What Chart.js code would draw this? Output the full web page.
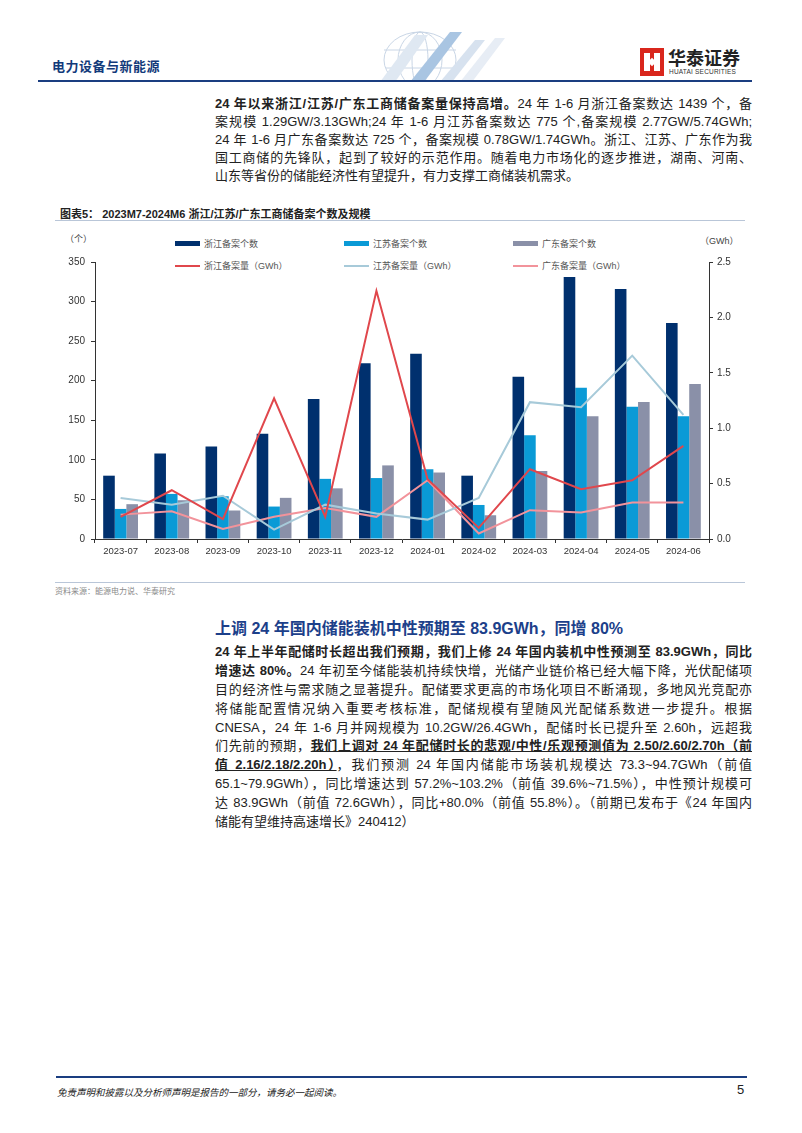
<!DOCTYPE html>
<html>
<head>
<meta charset="utf-8">
<script src="https://cdn.jsdelivr.net/npm/chart.js@4.4.1/dist/chart.umd.min.js"></script>
<style>
  html, body { margin:0; padding:0; background:#fff; }
  body { width:802px; height:1133px; position:relative; overflow:hidden;
         font-family:"Liberation Sans", Arial, "Noto Sans CJK SC", sans-serif; color:#222; }
  .abs { position:absolute; }
  .para { position:absolute; left:215px; width:537px; font-size:13px; }
  .para div { white-space:nowrap; text-align:justify; text-align-last:justify; height:18px; }
  .para div.last { text-align-last:left; }
  .hdr { left:52px; top:56px; font-size:13px; font-weight:bold; color:#123a7a; letter-spacing:0.5px; }
  .legend { position:absolute; font-size:9px; color:#555; display:flex; align-items:center; white-space:nowrap; }
  .sw { display:inline-block; width:25px; margin-right:4px; }
</style>
</head>
<body>
<!-- header -->
<div class="abs hdr">电力设备与新能源</div>
<svg class="abs" style="left:300px;top:30px" width="240" height="52">
  <g fill="none" stroke="#c9d6e6" stroke-width="1">
    <ellipse cx="120" cy="30" rx="36" ry="28"/>
    <ellipse cx="120" cy="30" rx="22" ry="28"/>
    <ellipse cx="120" cy="30" rx="8" ry="28"/>
    <line x1="84" y1="20" x2="156" y2="20"/>
    <line x1="86" y1="38" x2="154" y2="38"/>
  </g>
  <polygon points="80,52 115,5 128,5 95,52" fill="#dfe8f2"/>
  <polygon points="110,52 150,2 162,2 124,52" fill="#a9c5e2"/>
  <polygon points="140,52 175,10 185,10 152,52" fill="#d7e2ef"/>
  <polygon points="160,52 195,8 205,8 172,52" fill="#e7edf5"/>
</svg>
<div class="abs" style="left:640px;top:48px;width:24px;height:28px;background:#d9261c;">
  <div class="abs" style="left:4px;top:5px;width:6px;height:18px;background:#fff;"></div>
  <div class="abs" style="left:14px;top:5px;width:6px;height:18px;background:#fff;"></div>
  <div class="abs" style="left:9px;top:11px;width:6px;height:6px;background:#fff;transform:rotate(45deg);"></div>
</div>
<div class="abs" style="left:668px;top:46px;font-size:18px;font-weight:bold;color:#222;font-family:'Noto Sans CJK SC';line-height:22px;">华泰证券</div>
<div class="abs" style="left:669px;top:68px;font-size:6.5px;color:#333;letter-spacing:0.2px;">HUATAI SECURITIES</div>
<div class="abs" style="left:38px;top:80px;width:714px;height:2px;background:#1a3d80;"></div>

<!-- paragraph 1 -->
<div class="para" style="top:93px;">
  <div><b>24 年以来浙江/江苏/广东工商储备案量保持高增。</b>24 年 1-6 月浙江备案数达 1439 个，备</div>
  <div>案规模 1.29GW/3.13GWh;24 年 1-6 月江苏备案数达 775 个,备案规模 2.77GW/5.74GWh;</div>
  <div>24 年 1-6 月广东备案数达 725 个，备案规模 0.78GW/1.74GWh。浙江、江苏、广东作为我</div>
  <div>国工商储的先锋队，起到了较好的示范作用。随着电力市场化的逐步推进，湖南、河南、</div>
  <div class="last">山东等省份的储能经济性有望提升，有力支撑工商储装机需求。</div>
</div>

<!-- chart title -->
<div class="abs" style="left:60px;top:205px;font-size:11px;font-weight:bold;color:#222;white-space:nowrap;">图表5：&nbsp;2023M7-2024M6 浙江/江苏/广东工商储备案个数及规模</div>
<div class="abs" style="left:55px;top:220px;width:690px;height:1px;background:#b9c6d8;"></div>

<!-- axis titles -->
<div class="abs" style="left:65px;top:232px;font-size:9px;color:#444;">（个）</div>
<div class="abs" style="left:700px;top:234px;font-size:9px;color:#444;">（GWh）</div>

<!-- legend -->
<div class="legend" style="left:175px;top:237px;"><span class="sw" style="height:5px;background:#00306e"></span>浙江备案个数</div>
<div class="legend" style="left:344px;top:237px;"><span class="sw" style="height:5px;background:#0a9ad6"></span>江苏备案个数</div>
<div class="legend" style="left:513px;top:237px;"><span class="sw" style="height:5px;background:#8a90a8"></span>广东备案个数</div>
<div class="legend" style="left:175px;top:259px;"><span class="sw" style="height:2px;background:#e0474c"></span>浙江备案量（GWh）</div>
<div class="legend" style="left:344px;top:259px;"><span class="sw" style="height:2px;background:#a7cad9"></span>江苏备案量（GWh）</div>
<div class="legend" style="left:513px;top:259px;"><span class="sw" style="height:2px;background:#f2939b"></span>广东备案量（GWh）</div>

<div class="abs" style="left:40px;top:225px;width:720px;height:340px;">
  <canvas id="c" width="720" height="340"></canvas>
</div>

<!-- source -->
<div class="abs" style="left:55px;top:582px;width:690px;height:1px;background:#b9c6d8;"></div>
<div class="abs" style="left:55px;top:585px;font-size:8px;color:#8a8a8a;">资料来源：能源电力说、华泰研究</div>

<!-- heading -->
<div class="abs" style="left:215px;top:615px;font-size:16px;font-weight:bold;color:#1c3f8a;white-space:nowrap;">上调 24 年国内储能装机中性预期至 83.9GWh，同增 80%</div>

<!-- paragraph 2 -->
<div class="para" style="top:641px;">
  <div style="height:18.9px"><b>24 年上半年配储时长超出我们预期，我们上修 24 年国内装机中性预测至 83.9GWh，同比</b></div>
  <div style="height:18.9px"><b>增速达 80%。</b>24 年初至今储能装机持续快增，光储产业链价格已经大幅下降，光伏配储项</div>
  <div style="height:18.9px">目的经济性与需求随之显著提升。配储要求更高的市场化项目不断涌现，多地风光竞配亦</div>
  <div style="height:18.9px">将储能配置情况纳入重要考核标准，配储规模有望随风光配储系数进一步提升。根据</div>
  <div style="height:18.9px">CNESA，24 年 1-6 月并网规模为 10.2GW/26.4GWh，配储时长已提升至 2.60h，远超我</div>
  <div style="height:18.9px">们先前的预期，<u><b>我们上调对 24 年配储时长的悲观/中性/乐观预测值为 2.50/2.60/2.70h（前</b></u></div>
  <div style="height:18.9px"><u><b>值 2.16/2.18/2.20h）</b></u>，我们预测 24 年国内储能市场装机规模达 73.3~94.7GWh（前值</div>
  <div style="height:18.9px">65.1~79.9GWh），同比增速达到 57.2%~103.2%（前值 39.6%~71.5%），中性预计规模可</div>
  <div style="height:18.9px">达 83.9GWh（前值 72.6GWh），同比+80.0%（前值 55.8%）。（前期已发布于《24 年国内</div>
  <div class="last" style="height:18.9px">储能有望维持高速增长》240412）</div>
</div>

<!-- footer -->
<div class="abs" style="left:56px;top:1076px;width:691px;height:2px;background:#1a3d80;"></div>
<div class="abs" style="left:57px;top:1085px;font-size:9.5px;font-style:italic;color:#222;">免责声明和披露以及分析师声明是报告的一部分，请务必一起阅读。</div>
<div class="abs" style="left:737px;top:1082px;font-size:13px;color:#222;">5</div>

<script>
const categories = ["2023-07","2023-08","2023-09","2023-10","2023-11","2023-12","2024-01","2024-02","2024-03","2024-04","2024-05","2024-06"];
const zjCount = [80,108,117,133,177,222,234,80,205,331,316,273];
const jsCount = [38,57,54,41,76,77,88,43,131,191,167,155];
const gdCount = [44,49,36,52,64,93,84,30,86,155,173,196];
const zjGWh = [0.20,0.44,0.18,1.27,0.20,2.24,0.54,0.10,0.63,0.45,0.53,0.84];
const jsGWh = [0.37,0.31,0.39,0.085,0.31,0.23,0.175,0.37,1.235,1.19,1.655,1.12];
const gdGWh = [0.22,0.25,0.09,0.20,0.28,0.20,0.53,0.05,0.26,0.24,0.33,0.33];
const leftTicks = [0,50,100,150,200,250,300,350];
const rightTicks = [0,0.5,1.0,1.5,2.0,2.5];

const tickFont = { family: "'Liberation Sans', Arial, sans-serif", size: 10 };
const barDs = (label, data, color) => ({ type:'bar', label, data, backgroundColor:color, yAxisID:'y', order:2,
  categoryPercentage:0.68, barPercentage:1.0, borderWidth:0 });
const lineDs = (label, data, color) => ({ type:'line', label, data, borderColor:color, backgroundColor:color,
  borderWidth:2, pointRadius:0, tension:0, yAxisID:'y1', order:1 });

new Chart(document.getElementById('c'), {
  data: {
    labels: categories,
    datasets: [
      barDs('浙江备案个数', zjCount, '#00306e'),
      barDs('江苏备案个数', jsCount, '#0a9ad6'),
      barDs('广东备案个数', gdCount, '#8a90a8'),
      lineDs('浙江备案量（GWh）', zjGWh, '#e0474c'),
      lineDs('江苏备案量（GWh）', jsGWh, '#a7cad9'),
      lineDs('广东备案量（GWh）', gdGWh, '#f2939b')
    ]
  },
  options: {
    responsive:false, animation:false, devicePixelRatio:1,
    layout:{ padding:{ top:37, left:0, right:0, bottom:0 } },
    plugins:{ legend:{ display:false }, tooltip:{ enabled:false } },
    scales:{
      x:{
        grid:{ drawOnChartArea:false, tickLength:4, color:'#333', offset:true },
        border:{ color:'#333', width:1 },
        ticks:{ font:{...tickFont, size:9.5}, color:'#333', padding:3, maxRotation:0, autoSkip:false },
        afterFit: s => { s.height = 26; }
      },
      y:{
        position:'left', min:0, max:350,
        afterBuildTicks: s => { s.ticks = leftTicks.map(v => ({ value:v })); },
        grid:{ drawOnChartArea:false, tickLength:4, color:'#333' },
        border:{ color:'#333', width:1 },
        ticks:{ font:tickFont, color:'#333', padding:6 },
        afterFit: s => { s.width = 55; }
      },
      y1:{
        position:'right', min:0, max:2.5,
        afterBuildTicks: s => { s.ticks = rightTicks.map(v => ({ value:v })); },
        grid:{ drawOnChartArea:false, tickLength:4, color:'#333' },
        border:{ color:'#333', width:1 },
        ticks:{ font:tickFont, color:'#333', padding:4, callback: v => Number(v).toFixed(1) },
        afterFit: s => { s.width = 51; }
      }
    }
  }
});
</script>
</body>
</html>
